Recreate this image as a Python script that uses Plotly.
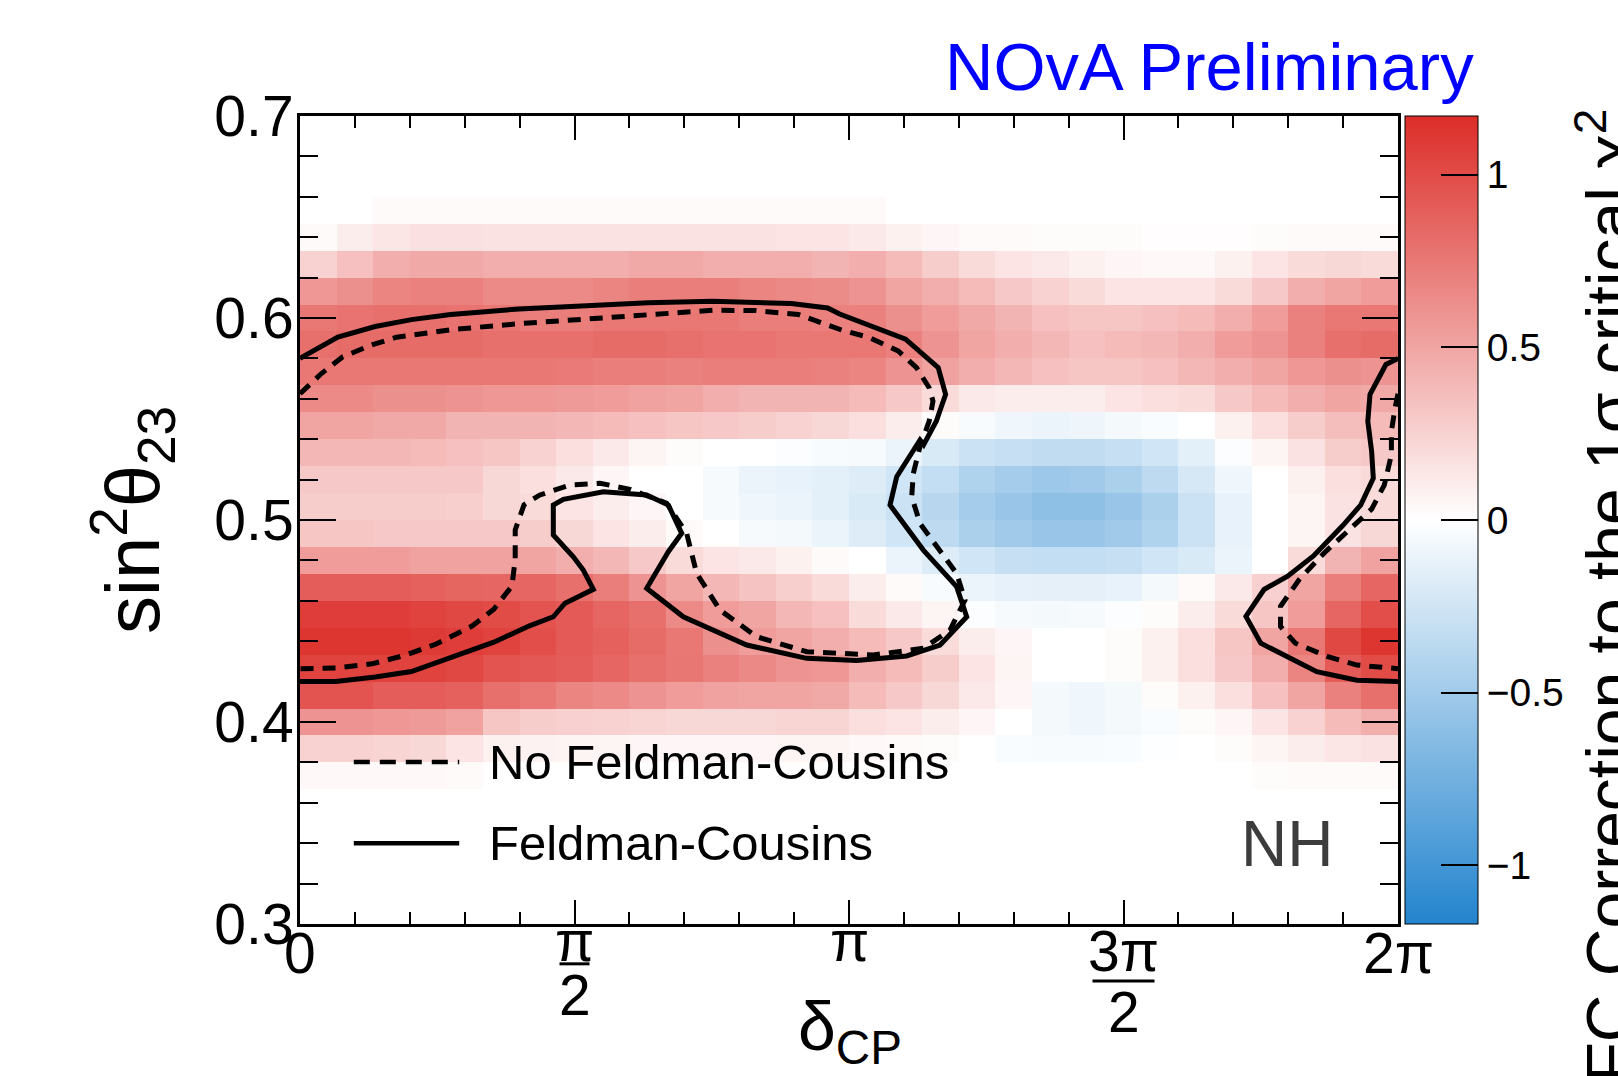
import numpy as np
import plotly.graph_objects as go

PI = np.pi
FONT = "Liberation Sans, Arial, Helvetica, sans-serif"

# ---------------- binning ----------------
N_DELTA_BINS = 30
N_S23_BINS = 30
DELTA_RANGE = [0.0, 2 * PI]
S23_RANGE = [0.3, 0.7]
Z_LIMIT = 1.17

# ---------------- FC correction map (rows: sin^2 theta23 bins from 0.30 upward; cols: delta_CP bins 0 -> 2pi)
zero_row = [0.0] * 30
row05 = [0.04,0.04,0.04,0.04,0.03,0,0,0,0,0,0,0,0,0,0,0,0,0,0,0,0,0,0,0,0,0,0.02,0.03,0.03,0.03]
row06 = [0.25,0.25,0.24,0.22,0.15,0.08,0.07,0.06,0.06,0.05,0.05,0.05,0.05,0.06,0.06,0.04,0.03,0.02,0.0,-0.03,-0.04,-0.04,-0.03,-0.01,0.0,0.02,0.06,0.1,0.14,0.16]
row07 = [0.6,0.6,0.58,0.56,0.52,0.32,0.28,0.26,0.25,0.24,0.22,0.22,0.22,0.24,0.24,0.18,0.15,0.1,0.05,0.0,-0.06,-0.08,-0.06,-0.03,0.02,0.05,0.15,0.25,0.38,0.45]
row08 = [0.95,0.95,0.9,0.9,0.88,0.8,0.75,0.68,0.65,0.6,0.55,0.52,0.5,0.5,0.48,0.38,0.3,0.22,0.12,0.05,-0.06,-0.08,-0.06,0.02,0.08,0.18,0.35,0.5,0.7,0.8]
row09 = [1.05,1.05,1.05,1.05,1.02,0.95,0.93,0.9,0.85,0.8,0.76,0.7,0.66,0.6,0.58,0.45,0.38,0.28,0.15,0.06,0.0,0.0,0.02,0.08,0.18,0.3,0.45,0.68,0.92,1.0]
row10 = [1.12,1.12,1.12,1.1,1.08,1.05,0.98,0.92,0.88,0.82,0.75,0.62,0.55,0.5,0.45,0.38,0.3,0.2,0.1,0.05,0.0,0.0,0.02,0.08,0.18,0.32,0.5,0.75,1.02,1.12]
row11 = [1.08,1.08,1.08,1.05,1.02,1.0,0.95,0.92,0.85,0.8,0.65,0.55,0.5,0.4,0.35,0.2,0.12,0.06,-0.02,-0.05,-0.06,-0.05,-0.02,0.02,0.1,0.2,0.32,0.55,0.85,0.98]
row12 = [0.9,0.9,0.9,0.88,0.86,0.85,0.85,0.8,0.72,0.6,0.5,0.4,0.33,0.27,0.2,0.1,0.03,-0.04,-0.1,-0.13,-0.14,-0.14,-0.12,-0.06,0.03,0.12,0.26,0.5,0.72,0.85]
row13 = [0.55,0.55,0.55,0.52,0.52,0.52,0.5,0.45,0.4,0.3,0.2,0.15,0.12,0.08,0.03,0.0,-0.1,-0.18,-0.25,-0.3,-0.32,-0.32,-0.3,-0.25,-0.2,-0.1,0.0,0.2,0.42,0.52]
row14 = [0.32,0.32,0.3,0.3,0.3,0.3,0.28,0.22,0.15,0.1,0.03,0.0,-0.05,-0.06,-0.1,-0.18,-0.25,-0.35,-0.45,-0.5,-0.55,-0.55,-0.5,-0.42,-0.28,-0.12,0.0,0.06,0.16,0.22]
row15 = [0.28,0.28,0.28,0.28,0.27,0.22,0.2,0.15,0.1,0.05,0.0,-0.05,-0.08,-0.1,-0.15,-0.2,-0.28,-0.38,-0.48,-0.55,-0.6,-0.6,-0.55,-0.45,-0.28,-0.12,0.0,0.06,0.16,0.2]
row16 = [0.3,0.3,0.3,0.3,0.3,0.22,0.18,0.12,0.05,0.0,0.0,-0.05,-0.1,-0.12,-0.15,-0.18,-0.25,-0.32,-0.42,-0.48,-0.52,-0.5,-0.45,-0.35,-0.22,-0.08,0.0,0.08,0.18,0.2]
row17 = [0.4,0.4,0.4,0.38,0.35,0.32,0.25,0.18,0.12,0.06,0.02,0.0,0.0,-0.02,-0.04,-0.05,-0.1,-0.2,-0.28,-0.3,-0.33,-0.33,-0.3,-0.25,-0.15,-0.02,0.06,0.16,0.28,0.3]
row18 = [0.5,0.5,0.48,0.48,0.42,0.42,0.42,0.4,0.38,0.35,0.32,0.3,0.28,0.25,0.22,0.18,0.1,0.02,-0.04,-0.08,-0.1,-0.09,-0.06,-0.03,0.0,0.08,0.18,0.28,0.36,0.38]
row19 = [0.65,0.65,0.62,0.62,0.6,0.58,0.58,0.56,0.55,0.52,0.5,0.45,0.42,0.42,0.42,0.38,0.3,0.2,0.12,0.1,0.1,0.1,0.15,0.18,0.2,0.3,0.38,0.45,0.5,0.48]
row20 = [0.75,0.75,0.75,0.75,0.75,0.75,0.75,0.74,0.72,0.72,0.7,0.72,0.72,0.72,0.7,0.68,0.6,0.52,0.45,0.4,0.35,0.32,0.32,0.35,0.4,0.45,0.5,0.58,0.62,0.6]
row21 = [0.8,0.82,0.82,0.82,0.82,0.8,0.8,0.8,0.82,0.82,0.8,0.78,0.78,0.75,0.75,0.75,0.7,0.6,0.5,0.45,0.4,0.35,0.38,0.4,0.45,0.55,0.6,0.7,0.8,0.82]
row22 = [0.75,0.78,0.8,0.8,0.78,0.75,0.72,0.72,0.75,0.75,0.75,0.75,0.72,0.72,0.7,0.7,0.62,0.55,0.48,0.42,0.35,0.32,0.32,0.35,0.38,0.45,0.55,0.7,0.75,0.75]
row23 = [0.58,0.62,0.68,0.7,0.7,0.65,0.65,0.65,0.68,0.72,0.72,0.72,0.68,0.66,0.64,0.6,0.5,0.45,0.38,0.3,0.25,0.2,0.15,0.15,0.15,0.2,0.3,0.45,0.5,0.55]
row24 = [0.25,0.35,0.45,0.48,0.48,0.45,0.45,0.45,0.45,0.48,0.48,0.45,0.45,0.45,0.42,0.45,0.38,0.28,0.2,0.15,0.12,0.08,0.05,0.04,0.04,0.08,0.15,0.2,0.22,0.2]
row25 = [0.03,0.1,0.14,0.17,0.17,0.16,0.16,0.16,0.16,0.16,0.16,0.16,0.16,0.15,0.15,0.12,0.08,0.05,0.03,0.03,0.02,0.02,0.02,0.01,0.01,0.01,0.02,0.03,0.03,0.03]
row26 = [0,0,0.03,0.03,0.03,0.03,0.03,0.03,0.03,0.03,0.03,0.03,0.03,0.03,0.03,0.03,0,0,0,0,0,0,0,0,0,0,0,0,0,0]

fc_correction = [zero_row, zero_row, zero_row, zero_row, zero_row,
                 row05, row06, row07, row08, row09, row10, row11, row12, row13, row14,
                 row15, row16, row17, row18, row19, row20, row21, row22, row23, row24,
                 row25, row26, zero_row, zero_row, zero_row]

# ---------------- 1 sigma contours (delta_CP in units of pi) ----------------
fc_main_dcp = [0.0,0.069,0.137,0.203,0.2745,0.399,0.503,0.634,0.752,0.895,0.961,0.983,1.103,1.1625,1.176,1.159,1.136,
               1.1293,1.0869,1.0747,1.1354,1.196,1.2144,1.1658,1.105,1.0139,0.923,0.8137,0.6982,0.6315,0.6709,0.6953,
               0.6709,0.6315,0.5525,0.4797,0.4614,0.4614,0.4978,0.516,0.5343,0.4827,0.4614,0.437,0.418,0.353,0.2745,
               0.203,0.137,0.065,0.0]
fc_main_s23 = [0.580,0.5905,0.5958,0.5992,0.6017,0.6045,0.6058,0.6075,0.6083,0.6072,0.605,0.602,0.5895,0.5754,0.5622,0.5489,0.5373,
               0.5396,0.5214,0.5074,0.4851,0.467,0.4521,0.4381,0.4327,0.4304,0.4315,0.4381,0.4521,0.4662,0.4843,0.4934,
               0.5074,0.5124,0.514,0.5102,0.5074,0.4926,0.4818,0.4752,0.4657,0.4588,0.4521,0.4497,0.4476,0.4395,0.432,
               0.425,0.4223,0.420,0.420]
fc_wrap_dcp = [2.0,1.978,1.949,1.945,1.952,1.955,1.932,1.899,1.846,1.799,1.756,1.723,1.75,1.799,1.852,1.925,2.0]
fc_wrap_s23 = [0.580,0.577,0.5622,0.5489,0.5339,0.5207,0.5074,0.4971,0.4822,0.4722,0.4656,0.4523,0.439,0.4324,0.4249,0.4207,0.420]

nofc_main_dcp = [0.0,0.039,0.078,0.131,0.176,0.2745,0.399,0.503,0.634,0.752,0.83,0.908,0.987,1.036,1.0896,1.123,1.146,1.153,
                 1.146,1.1293,1.1172,1.1142,1.1293,1.1658,1.196,1.2113,1.184,1.1354,1.0443,0.923,0.8319,0.765,0.7225,
                 0.7043,0.6679,0.6011,0.5464,0.4918,0.437,0.408,0.392,0.392,0.386,0.353,0.314,0.248,0.19,0.131,0.065,0.0]
nofc_main_s23 = [0.5625,0.5725,0.5808,0.5867,0.5905,0.5942,0.5972,0.5992,0.6017,0.6038,0.6037,0.6017,0.594,0.5904,0.5837,0.5754,0.5655,0.5588,
                 0.5489,0.5363,0.5231,0.5116,0.4983,0.4851,0.4736,0.4604,0.4455,0.4365,0.4332,0.4348,0.4422,0.4554,0.4736,
                 0.4934,0.5083,0.5152,0.5182,0.5173,0.5124,0.5075,0.4951,0.4804,0.4673,0.4558,0.4476,0.4386,0.4329,0.4288,0.4267,0.4264]
nofc_wrap_dcp = [2.0,1.995,1.988,1.988,1.975,1.952,1.912,1.866,1.82,1.786,1.786,1.813,1.872,1.925,2.0]
nofc_wrap_s23 = [0.5625,0.556,0.5439,0.5323,0.5173,0.5054,0.4954,0.4838,0.4705,0.4573,0.4473,0.439,0.4324,0.4282,0.4264]

# ---------------- axis labels ----------------
x_tick_over_pi = [0, 0.5, 1, 1.5, 2]
x_tick_num = ["0", "π", "π", "3π", "2π"]
x_tick_den = [None, "2", None, "2", None]
y_tick_vals = [0.3, 0.4, 0.5, 0.6, 0.7]
cbar_tick_vals = [-1, -0.5, 0, 0.5, 1]
legend_labels = ["No Feldman-Cousins", "Feldman-Cousins"]

# ---------------- build ----------------
x_edges = np.linspace(DELTA_RANGE[0], DELTA_RANGE[1], N_DELTA_BINS + 1)
y_edges = np.linspace(S23_RANGE[0], S23_RANGE[1], N_S23_BINS + 1)
x_centers = 0.5 * (x_edges[:-1] + x_edges[1:])
y_centers = 0.5 * (y_edges[:-1] + y_edges[1:])

colorscale = [[0.0, "rgb(35,132,206)"], [0.5, "rgb(255,255,255)"], [1.0, "rgb(220,45,40)"]]

fig = go.Figure()
fig.add_trace(go.Heatmap(
    x=x_centers, y=y_centers, z=fc_correction, zmin=-Z_LIMIT, zmax=Z_LIMIT,
    colorscale=colorscale, zsmooth=False, hoverinfo="skip",
    colorbar=dict(
        x=1.0064, xanchor="left", xpad=0, y=0.5, yanchor="middle", ypad=0,
        len=1.0, lenmode="fraction", thickness=73, thicknessmode="pixels",
        outlinewidth=1, outlinecolor="black",
        ticks="inside", ticklen=37, tickwidth=1.5, tickcolor="black",
        tickvals=cbar_tick_vals, ticktext=[("−" if v < 0 else "") + f"{abs(v):g}" for v in cbar_tick_vals],
        tickfont=dict(family=FONT, size=39, color="black"),
    ),
))

DASH = "13px,9px"
LW = 5
for dcp, s23, dash in [(fc_main_dcp, fc_main_s23, "solid"), (fc_wrap_dcp, fc_wrap_s23, "solid"),
                       (nofc_main_dcp, nofc_main_s23, DASH), (nofc_wrap_dcp, nofc_wrap_s23, DASH)]:
    fig.add_trace(go.Scatter(x=np.array(dcp) * PI, y=s23, mode="lines",
                             line=dict(color="black", width=LW, dash=dash),
                             showlegend=False, hoverinfo="skip"))

annotations = []
shapes = []
for v, num, den in zip(x_tick_over_pi, x_tick_num, x_tick_den):
    if num == "π":
        shift = 12
    elif num == "3π":
        shift = 2
    else:
        shift = 0
    annotations.append(dict(x=v * PI, xref="x", y=0.0057, yref="paper", text=num, showarrow=False,
                            xanchor="center", yanchor="top", yshift=shift,
                            font=dict(family=FONT, size=57, color="black")))
    if den:
        half = 15 if num == "π" else 31
        bar_y = -0.0493 if num == "π" else -0.0705
        den_y = -0.0463 if num == "π" else -0.0665
        shapes.append(dict(type="line", xref="x", xsizemode="pixel", xanchor=v * PI, x0=-half, x1=half,
                           yref="paper", y0=bar_y, y1=bar_y, line=dict(color="black", width=3)))
        annotations.append(dict(x=v * PI, xref="x", y=den_y, yref="paper", text=den, showarrow=False,
                                xanchor="center", yanchor="top",
                                font=dict(family=FONT, size=57, color="black")))

# axis titles
annotations.append(dict(x=0.501, y=-0.077, xref="paper", yref="paper", text="δ<sub>CP</sub>", showarrow=False,
                        xanchor="center", yanchor="top", font=dict(family=FONT, size=68, color="black")))
annotations.append(dict(x=-0.153, y=0.5, xref="paper", yref="paper", text="sin<sup>2</sup>θ<sub>23</sub>",
                        showarrow=False, textangle=-90, xanchor="center", yanchor="middle",
                        font=dict(family=FONT, size=76, color="black")))
annotations.append(dict(x=1.189, y=0.406, xref="paper", yref="paper",
                        text="FC Correction to the 1σ critical χ<sup>2</sup>",
                        showarrow=False, textangle=-90, xanchor="center", yanchor="middle",
                        font=dict(family=FONT, size=66, color="black")))
# header / tag
annotations.append(dict(x=1.071, y=1.0613, xref="paper", yref="paper", text="NOvA Preliminary", showarrow=False,
                        xanchor="right", yanchor="middle", font=dict(family=FONT, size=67, color="rgb(0,0,255)")))
annotations.append(dict(x=0.9425, y=0.099, xref="paper", yref="paper", text="NH", showarrow=False,
                        xanchor="right", yanchor="middle", font=dict(family=FONT, size=64, color="rgb(60,60,60)")))

# manual legend
legend_y = [0.2005, 0.100]
legend_dash = ["16px,10px", "solid"]
for lab, ly, dsh in zip(legend_labels, legend_y, legend_dash):
    shapes.append(dict(type="line", xref="x domain", yref="y domain", x0=0.049, x1=0.145, y0=ly, y1=ly,
                       line=dict(color="black", width=4.5, dash=dsh)))
    annotations.append(dict(x=0.170, y=ly, xref="x domain", yref="y domain", text=lab, showarrow=False,
                            xanchor="left", yanchor="middle", font=dict(family=FONT, size=49, color="black")))

fig.update_layout(
    width=1618, height=1076,
    margin=dict(l=300, r=220, t=116, b=152, pad=0),
    paper_bgcolor="white", plot_bgcolor="white",
    font=dict(family=FONT, color="black"),
    showlegend=False,
    annotations=annotations, shapes=shapes,
    xaxis=dict(range=DELTA_RANGE, showgrid=False, zeroline=False, showline=True, linecolor="black", linewidth=3,
               mirror="ticks", ticks="inside", tickvals=[v * PI for v in x_tick_over_pi], ticklen=24, tickwidth=2,
               tickcolor="black", showticklabels=False,
               minor=dict(ticks="inside", ticklen=12, tickwidth=2, tickcolor="black", dtick=PI / 10, tick0=0)),
    yaxis=dict(range=S23_RANGE, showgrid=False, zeroline=False, showline=True, linecolor="black", linewidth=3,
               mirror="ticks", ticks="inside", tickvals=y_tick_vals, tickformat=".1f", ticklen=36, tickwidth=2,
               tickcolor="black", tickfont=dict(family=FONT, size=57, color="black"), ticklabelstandoff=-8,
               minor=dict(ticks="inside", ticklen=18, tickwidth=2, tickcolor="black", dtick=0.02, tick0=0.3)),
)

fig.write_html("out.html", config={"displayModeBar": False},
               post_script="document.body.style.margin='0px';document.body.style.overflow='hidden';")
